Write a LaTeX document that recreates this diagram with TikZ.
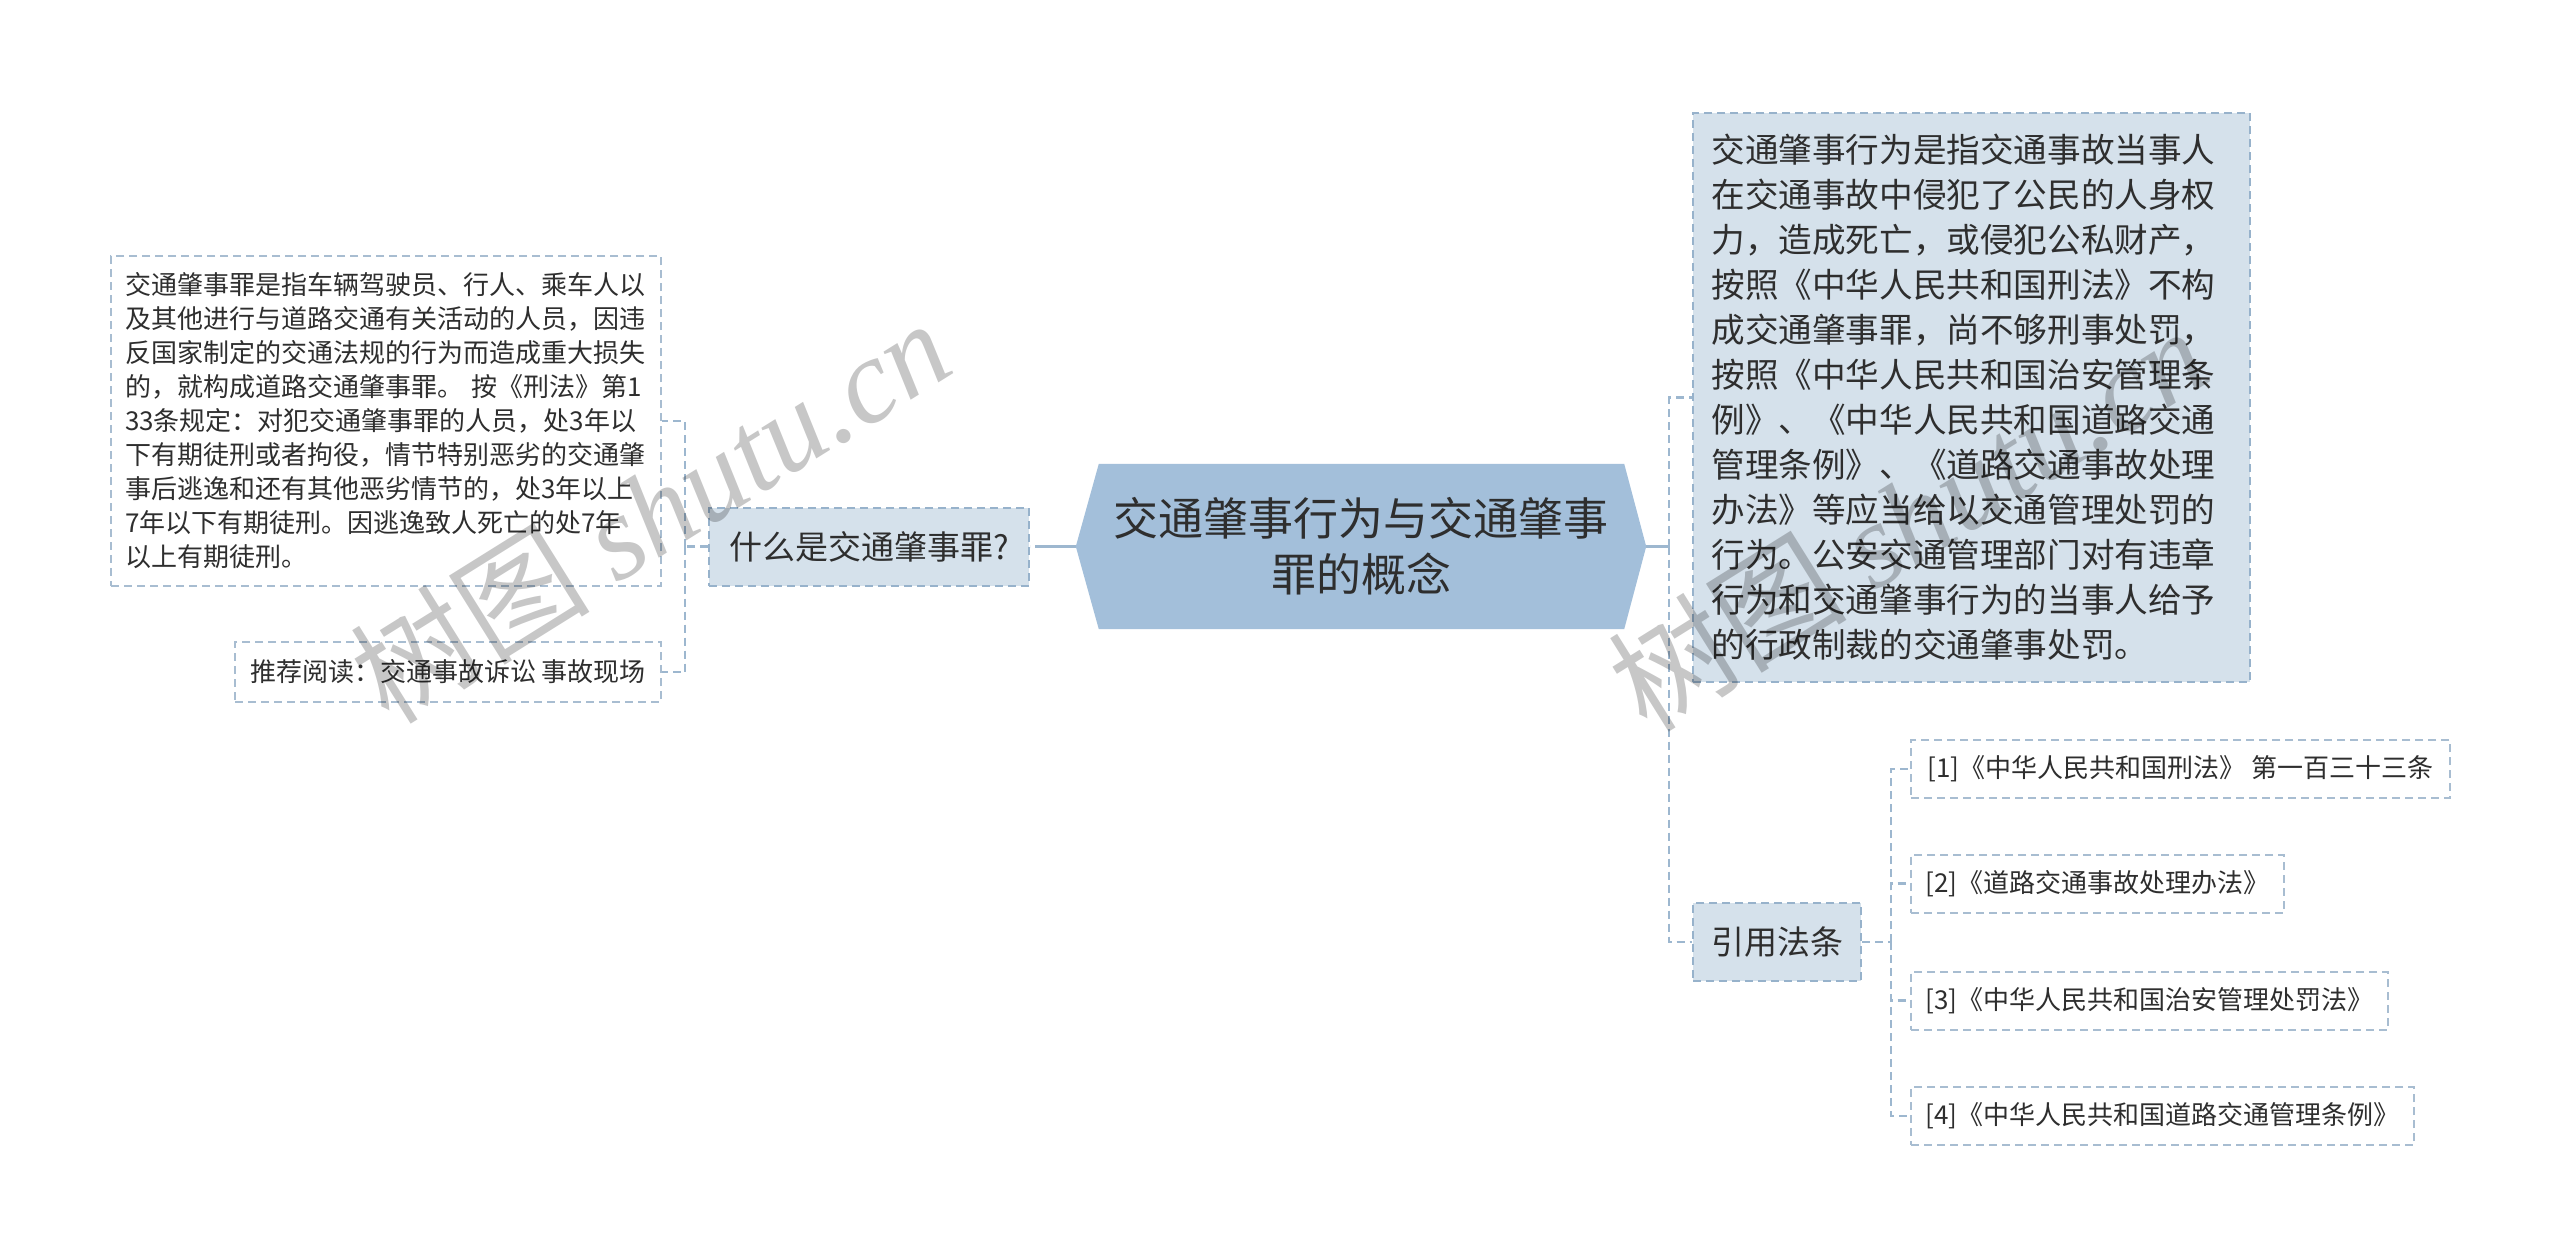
\documentclass[tikz,border=0pt]{standalone}
\usepackage{fontspec}
\setmainfont{Noto Sans CJK SC}
\newfontfamily\cjkfont{Noto Sans CJK SC}
\newfontfamily\wmserif{Liberation Serif}
\usetikzlibrary{calc}
\pgfdeclarelayer{background}
\pgfsetlayers{background,main}
\definecolor{hexfill}{HTML}{A3BFDA}
\definecolor{lvfill}{HTML}{D5E1EB}
\definecolor{lvborder}{HTML}{97B2CB}
\definecolor{leafborder}{HTML}{A8BDD1}
\definecolor{linec}{HTML}{9DB7CF}
\definecolor{txt}{HTML}{2E2E2E}
\tikzset{
  lvbox/.style={draw=lvborder, fill=lvfill, line width=2pt, dash pattern=on 8pt off 5pt, inner sep=0pt, text=txt, font=\fontsize{33}{40}\selectfont},
  leafbox/.style={draw=leafborder, fill=white, line width=2pt, dash pattern=on 8pt off 5pt, inner sep=0pt, text=txt, font=\fontsize{26}{34}\selectfont},
  solidconn/.style={draw=linec, line width=3pt},
  dashconn/.style={draw=linec, line width=2.5pt, dash pattern=on 8pt off 5pt},
  wmark/.style={text=black, text opacity=0.22, inner sep=0pt, rotate=32, font=\fontsize{120}{120}\selectfont}
}
\begin{document}
\begin{tikzpicture}[x=1pt, y=-1pt]
\useasboundingbox (0,0) rectangle (2560,1259);

% root
\node[minimum width=570pt, minimum height=165pt, inner sep=0pt, align=center, text=txt,
      font=\fontsize{45}{56}\selectfont] (root) at (1361,546.5)
      {交通肇事行为与交通肇事\\罪的概念};
\begin{pgfonlayer}{background}
\fill[white] (0,0) rectangle (2560,1259);
\fill[hexfill] (root.west) -- ($(root.north west)+(23,0)$) -- ($(root.north east)+(-22,0)$)
  -- (root.east) -- ($(root.south east)+(-22,0)$) -- ($(root.south west)+(23,0)$) -- cycle;
\end{pgfonlayer}

% left branch
\node[lvbox, minimum width=320pt, minimum height=78pt] (q) at (869,546.5) {什么是交通肇事罪?};
\node[leafbox, minimum height=330pt, text width=522pt, inner xsep=14pt, align=left] (def) at (386,421)
 {交通肇事罪是指车辆驾驶员、行人、乘车人以\\
  及其他进行与道路交通有关活动的人员，因违\\
  反国家制定的交通法规的行为而造成重大损失\\
  的，就构成道路交通肇事罪。 按《刑法》第1\\
  33条规定：对犯交通肇事罪的人员，处3年以\\
  下有期徒刑或者拘役，情节特别恶劣的交通肇\\
  事后逃逸和还有其他恶劣情节的，处3年以上\\
  7年以下有期徒刑。因逃逸致人死亡的处7年\\
  以上有期徒刑。};
\node[leafbox, minimum width=426pt, minimum height=60pt] (rec) at (448,672) {推荐阅读：交通事故诉讼 事故现场};

% right branch
\node[lvbox, minimum height=569pt, text width=520pt, inner xsep=18.5pt, align=left,
      font=\fontsize{33.6}{45}\selectfont] (rbox) at (1971.5,397.5)
 {交通肇事行为是指交通事故当事人\\
  在交通事故中侵犯了公民的人身权\\
  力，造成死亡，或侵犯公私财产，\\
  按照《中华人民共和国刑法》不构\\
  成交通肇事罪，尚不够刑事处罚，\\
  按照《中华人民共和国治安管理条\\
  例》、《中华人民共和国道路交通\\
  管理条例》、《道路交通事故处理\\
  办法》等应当给以交通管理处罚的\\
  行为。公安交通管理部门对有违章\\
  行为和交通肇事行为的当事人给予\\
  的行政制裁的交通肇事处罚。};
\node[lvbox, minimum width=168pt, minimum height=78pt] (law) at (1777,942) {引用法条};

\node[leafbox, anchor=west, minimum width=539pt, minimum height=58pt] (r1) at (1910,769) {[1]《中华人民共和国刑法》 第一百三十三条};
\node[leafbox, anchor=west, minimum width=373pt, minimum height=58pt] (r2) at (1910,883.5) {[2]《道路交通事故处理办法》};
\node[leafbox, anchor=west, minimum width=477pt, minimum height=58pt] (r3) at (1910,1000.5) {[3]《中华人民共和国治安管理处罚法》};
\node[leafbox, anchor=west, minimum width=503pt, minimum height=58pt] (r4) at (1910,1116) {[4]《中华人民共和国道路交通管理条例》};

% junctions
\coordinate (jl) at (1043,546.5);
\coordinate (jl2) at (685,546.5);
\coordinate (jr) at (1669,546.5);
\coordinate (jr2) at (1891,942);

% connectors
\draw[solidconn] (root.west) -- (jl);
\draw[dashconn] (jl) -- (q.east);
\draw[dashconn] (q.west) -- (jl2);
\draw[dashconn] (jl2) |- (def.east);
\draw[dashconn] (jl2) |- (rec.east);
\draw[solidconn] (root.east) -- (jr);
\draw[dashconn] (jr) |- (rbox.west);
\draw[dashconn] (jr) |- (law.west);
\draw[dashconn] (law.east) -- (jr2);
\draw[dashconn] (jr2) |- (r1.west);
\draw[dashconn] (jr2) |- (r2.west);
\draw[dashconn] (jr2) |- (r3.west);
\draw[dashconn] (jr2) |- (r4.west);

% watermarks
\node[wmark] (wm1) at (650,510) {\cjkfont 树图 \wmserif\itshape shutu.cn};
\node[wmark] (wm2) at (1907,518) {\cjkfont 树图 \wmserif\itshape shutu.cn};
\end{tikzpicture}
\end{document}
